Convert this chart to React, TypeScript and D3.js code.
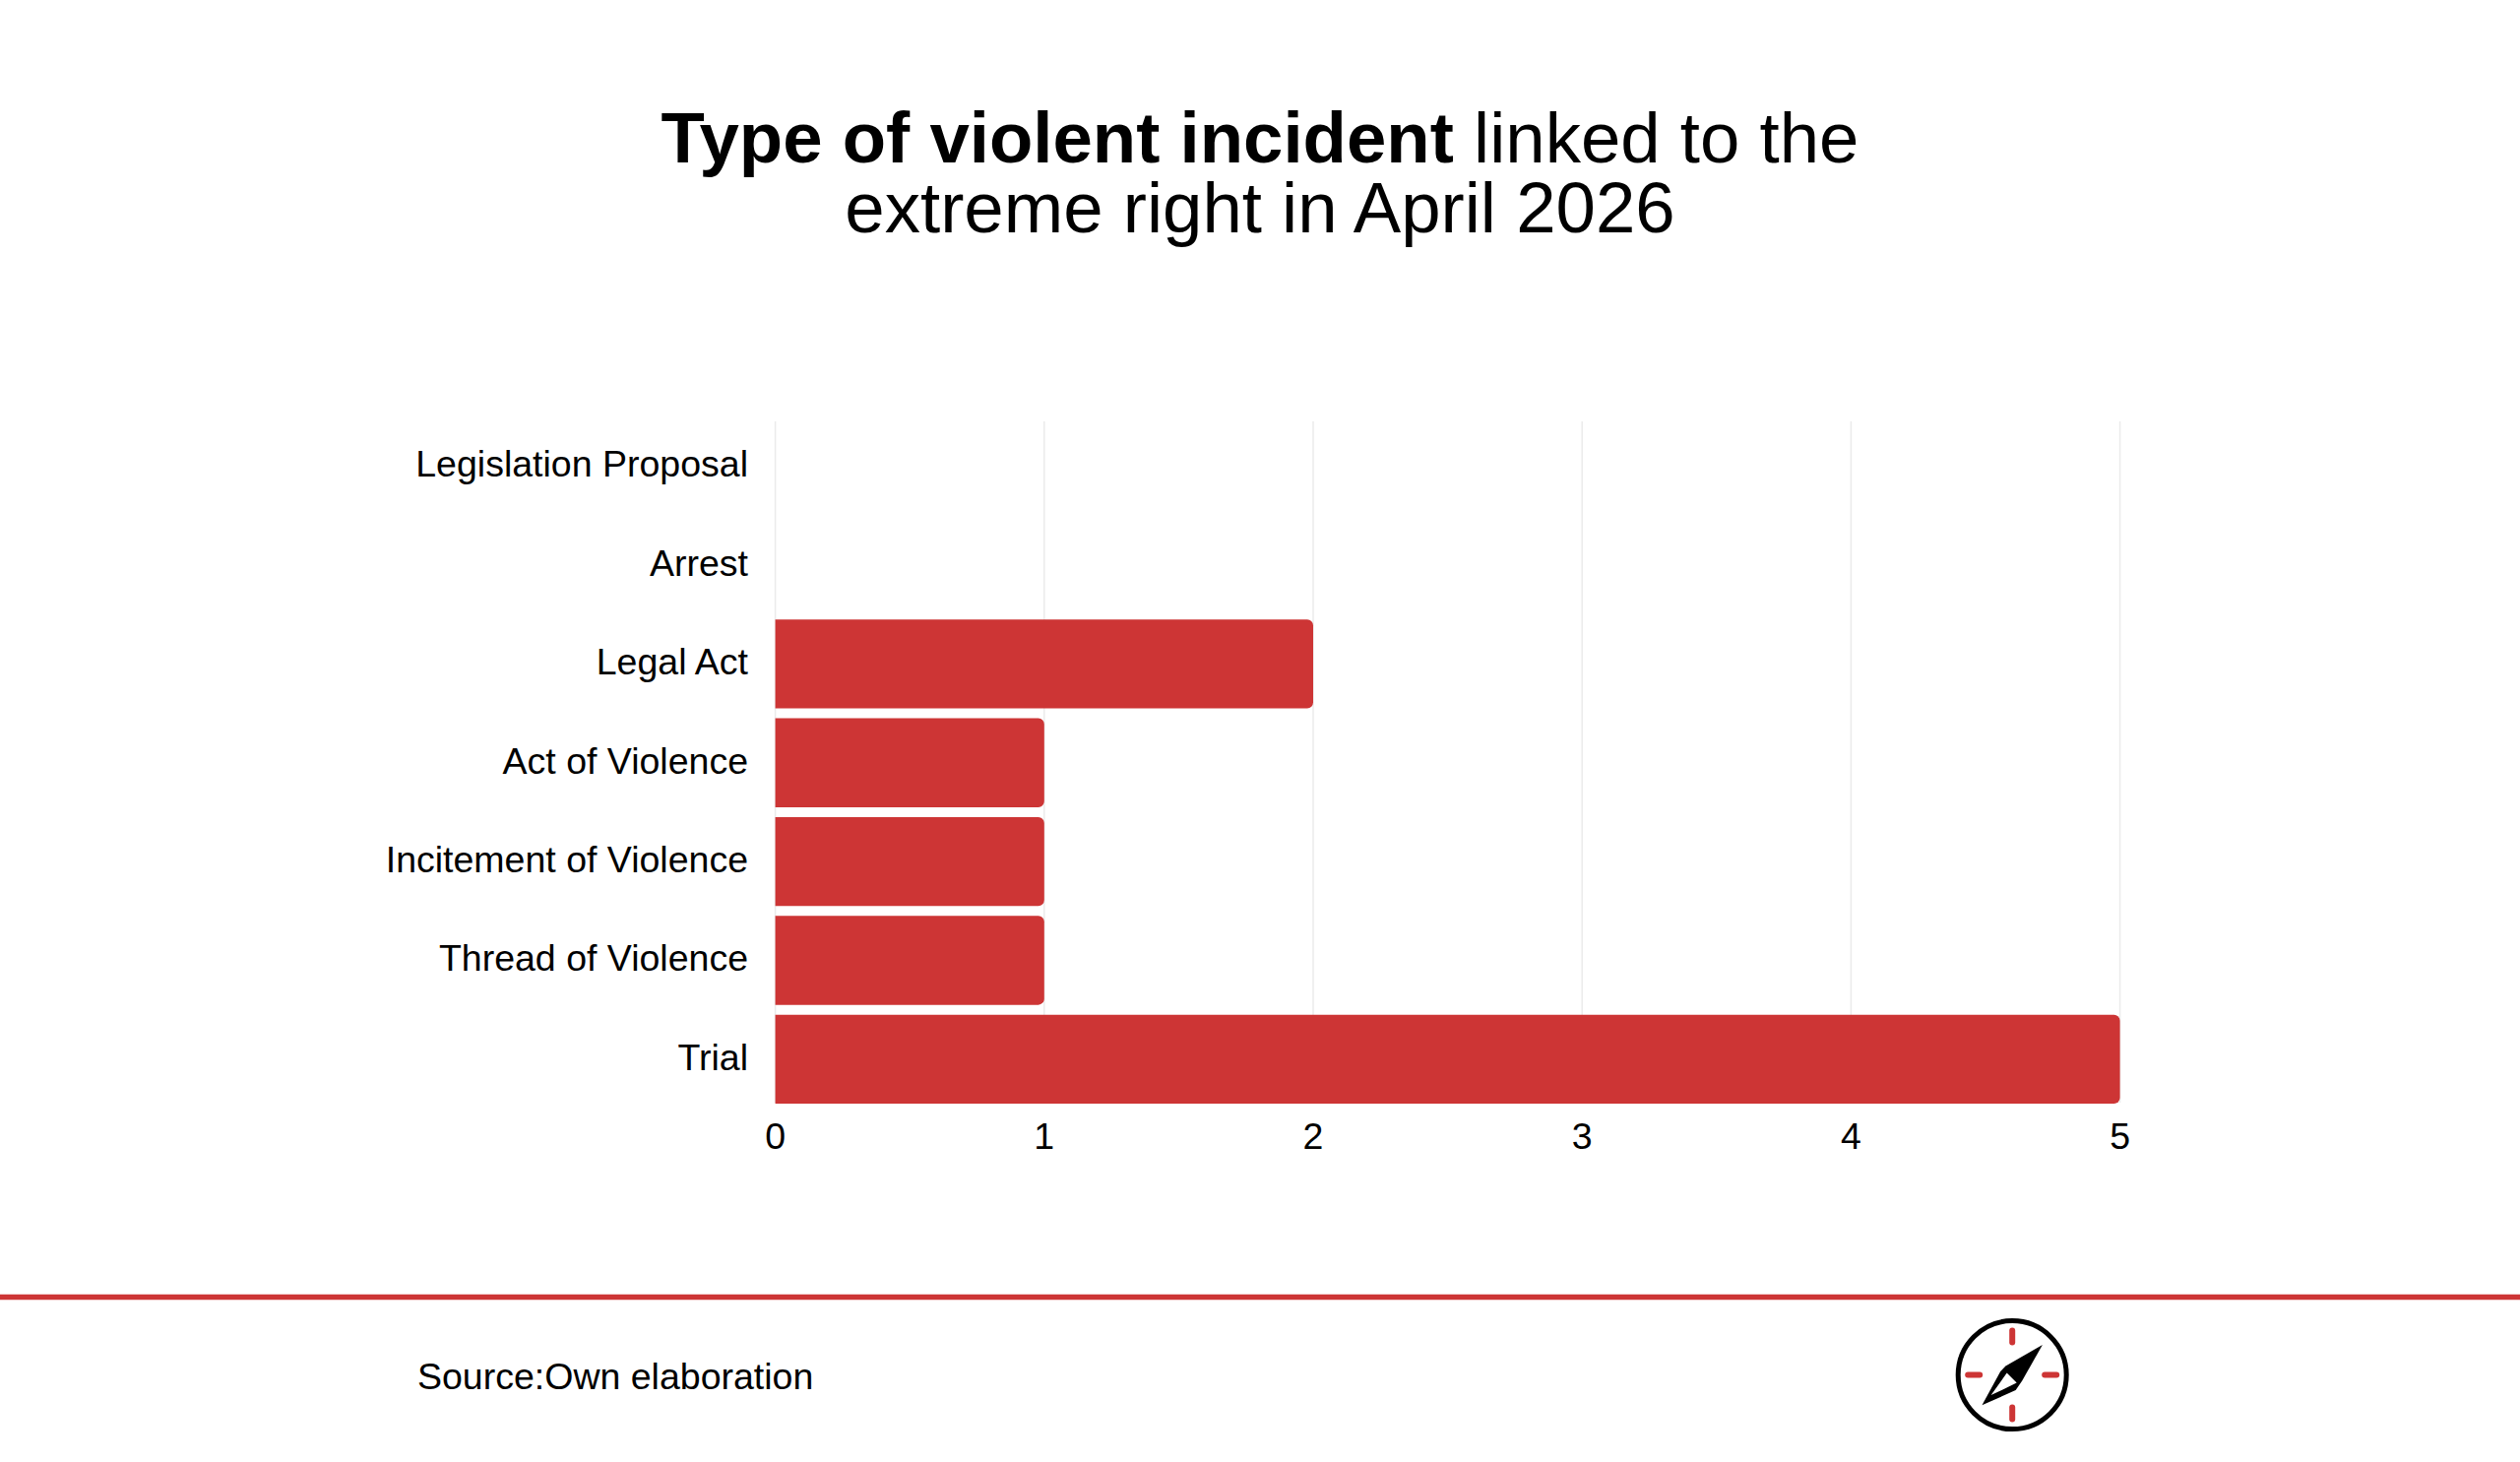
import React from 'react';
import * as d3 from 'd3';

const categories = [
  'Legislation Proposal',
  'Arrest',
  'Legal Act',
  'Act of Violence',
  'Incitement of Violence',
  'Thread of Violence',
  'Trial',
];
const counts = [0, 0, 2, 1, 1, 1, 5];
const xTicks = [0, 1, 2, 3, 4, 5];

const WIDTH = 2560;
const HEIGHT = 1485;
const RED = '#cd3535';
const FONT = '"Liberation Sans", Arial, sans-serif';

const x = d3.scaleLinear().domain([0, 5]).range([787.6, 2153.6]);
const y = d3.scaleBand<string>().domain(categories).range([423.5, 1126]).paddingInner(0.1).paddingOuter(0.05);

// bar with only the right corners rounded
const barPath = (x0: number, x1: number, y0: number, y1: number, r: number) => {
  const p = d3.path();
  p.moveTo(x0, y0);
  p.lineTo(x1 - r, y0);
  p.arcTo(x1, y0, x1, y0 + r, r);
  p.lineTo(x1, y1 - r);
  p.arcTo(x1, y1, x1 - r, y1, r);
  p.lineTo(x0, y1);
  p.closePath();
  return p.toString();
};

const Compass: React.FC<{ cx: number; cy: number }> = ({ cx, cy }) => (
  <g transform={`translate(${cx},${cy})`}>
    <circle r={55} fill="#fff" stroke="#000" strokeWidth={5} />
    <g stroke={RED} strokeWidth={6} strokeLinecap="round">
      <line x1={0} x2={0} y1={-45} y2={-33} />
      <line x1={0} x2={0} y1={33} y2={45} />
      <line x1={-45} x2={-33} y1={0} y2={0} />
      <line x1={33} x2={45} y1={0} y2={0} />
    </g>
    <path d="M30.7,-30.7 L-6.7,-9 L-12,-3.5 L-30.7,30.7 L3.5,15.5 L10,6 Z" fill="#000" />
    <path d="M-5.5,-2 L4.5,8 L-21.5,20.5 Z" fill="#fff" />
  </g>
);

const App: React.FC = () => (
  <svg
    width={WIDTH}
    height={HEIGHT}
    viewBox={`0 0 ${WIDTH} ${HEIGHT}`}
    style={{ position: 'absolute', left: 0, top: 0, display: 'block', background: '#fff' }}
    fontFamily={FONT}
  >
    <text x={1280} y={164.5} textAnchor="middle" fontSize={72.6} fill="#000">
      <tspan fontWeight="bold">Type of violent incident</tspan> linked to the
    </text>
    <text x={1280} y={235.5} textAnchor="middle" fontSize={72.6} fill="#000">
      extreme right in April 2026
    </text>

    {xTicks.map(t => (
      <line key={t} x1={x(t)} x2={x(t)} y1={428} y2={1120} stroke="#ebebeb" strokeWidth={1.5} />
    ))}

    {categories.map((c, i) =>
      counts[i] > 0 ? (
        <path
          key={c}
          d={barPath(x(0), x(counts[i]), y(c)!, y(c)! + y.bandwidth(), 6)}
          fill={RED}
        />
      ) : null
    )}

    {categories.map(c => (
      <text key={c} x={760} y={y(c)! + y.bandwidth() / 2 + 10.8} textAnchor="end" fontSize={37.5} fill="#000">
        {c}
      </text>
    ))}

    {xTicks.map(t => (
      <text key={t} x={x(t)} y={1167} textAnchor="middle" fontSize={37.5} fill="#000">
        {t}
      </text>
    ))}

    <line x1={0} x2={WIDTH} y1={1317.6} y2={1317.6} stroke={RED} strokeWidth={5.5} />

    <text x={424} y={1411} fontSize={37.5} fill="#000">
      Source:Own elaboration
    </text>

    <Compass cx={2044.2} cy={1396.6} />
  </svg>
);

export default App;
